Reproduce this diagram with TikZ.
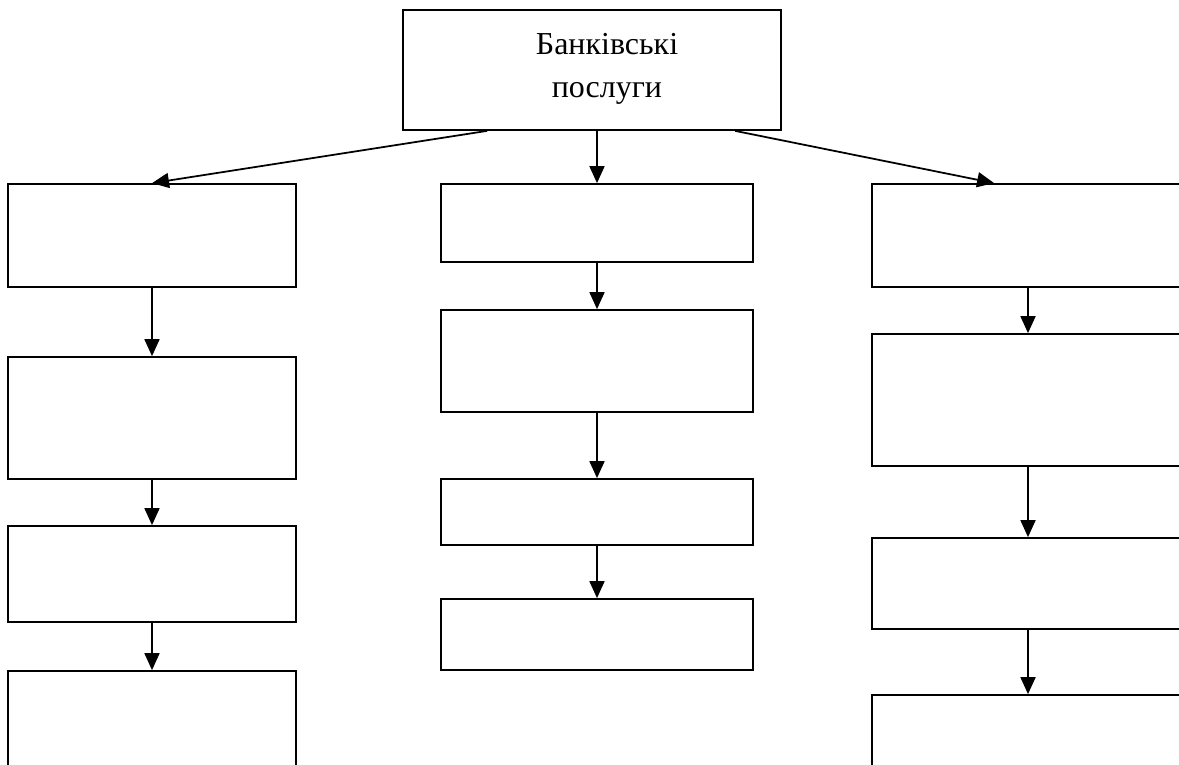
\documentclass[tikz,border=0pt]{standalone}
\usepackage{fontspec}
\setmainfont{Liberation Serif}
\usepackage{tikz}
\usetikzlibrary{arrows.meta}
\usetikzlibrary{calc}

\tikzset{
    blok/.style={draw=black, line width=1pt, inner sep=0pt},
    strilka/.style={line width=1pt, -{Triangle[length=0.34cm, width=0.3cm]}}
}

\begin{document}
\begin{tikzpicture}[x=0.02cm, y=-0.02cm]
        \useasboundingbox (0,0) rectangle (1179,764);
        \clip (0,0) rectangle (1179,764);

        \node[blok, minimum width=7.56cm, minimum height=2.4cm] (top) at (592,70) {};
        \node[align=center, inner sep=0pt, font=\fontsize{18.2}{24.4}\selectfont] (toptext) at (607,69) {Банківські\\послуги};

        \node[blok, minimum width=5.76cm, minimum height=2.06cm] (l1) at (152,235.5) {};
        \node[blok, minimum width=5.76cm, minimum height=2.44cm] (l2) at (152,418) {};
        \node[blok, minimum width=5.76cm, minimum height=1.92cm] (l3) at (152,574) {};
        \node[blok, minimum width=5.76cm, minimum height=2.58cm] (l4) at (152,735.5) {};

        \node[blok, minimum width=6.24cm, minimum height=1.56cm] (m1) at (597,223) {};
        \node[blok, minimum width=6.24cm, minimum height=2.04cm] (m2) at (597,361) {};
        \node[blok, minimum width=6.24cm, minimum height=1.32cm] (m3) at (597,512) {};
        \node[blok, minimum width=6.24cm, minimum height=1.42cm] (m4) at (597,634.5) {};

        \node[blok, minimum width=6.24cm, minimum height=2.06cm] (r1) at (1028,235.5) {};
        \node[blok, minimum width=6.24cm, minimum height=2.64cm] (r2) at (1028,400) {};
        \node[blok, minimum width=6.24cm, minimum height=1.82cm] (r3) at (1028,583.5) {};
        \node[blok, minimum width=6.24cm, minimum height=2.5cm] (r4) at (1028,757.5) {};

        \draw[strilka] ([xshift=1.7cm]top.south west) -- (l1.north);
        \draw[strilka] (top.south -| m1.north) -- (m1.north);
        \draw[strilka] ([xshift=6.66cm]top.south west) -- ([xshift=2.46cm]r1.north west);

        \draw[strilka] (l1) -- (l2);
        \draw[strilka] (l2) -- (l3);
        \draw[strilka] (l3) -- (l4);

        \draw[strilka] (m1) -- (m2);
        \draw[strilka] (m2) -- (m3);
        \draw[strilka] (m3) -- (m4);

        \draw[strilka] (r1) -- (r2);
        \draw[strilka] (r2) -- (r3);
        \draw[strilka] (r3) -- (r4);
\end{tikzpicture}
\end{document}
